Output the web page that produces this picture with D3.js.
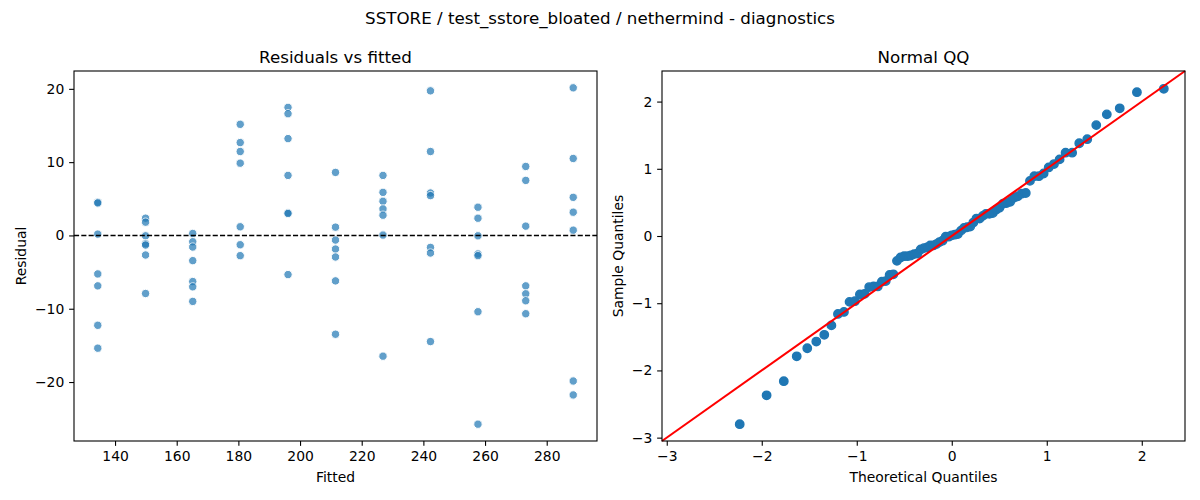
<!DOCTYPE html>
<html>
<head>
<meta charset="utf-8">
<script src="https://cdn.jsdelivr.net/npm/d3@7"></script>
<style>
  body { margin: 0; background: #fff; }
  text { font-family: "DejaVu Sans", sans-serif; fill: #000; }
  .tick text { font-size: 13.9px; }
  .tick line { stroke: #000; stroke-width: 1.1; }
</style>
</head>
<body>
<div id="chart"></div>
<script>
// Fitted value of each group (x position of each column)
const fitted = [134.4, 149.9, 165.2, 180.6, 196.1, 211.5, 226.9, 242.3, 257.7, 273.2, 288.6];

// Residuals, same order as fitted
const residualGroups = [
  [4.52, 4.43, 0.18, -5.25, -6.88, -12.26, -15.38],
  [2.35, 1.81, -0.05, -1.13, -1.31, -2.67, -7.92],
  [0.27, -0.86, -1.58, -3.44, -6.29, -7.01, -9.0],
  [15.16, 12.67, 11.45, 9.86, 1.18, -1.27, -2.76],
  [17.47, 16.61, 13.21, 8.19, 3.08, 2.99, -5.34],
  [8.6, 1.13, -0.63, -1.86, -2.94, -6.2, -13.48],
  [8.19, 5.88, 4.66, 3.62, 2.76, 0.05, -16.47],
  [19.73, 11.45, 5.79, 5.43, -1.63, -2.4, -14.48],
  [3.85, 2.35, -0.05, -2.53, -2.76, -10.41, -25.75],
  [9.41, 7.51, 1.27, -6.88, -7.96, -8.91, -10.68],
  [20.14, 10.5, 5.2, 3.17, 0.72, -19.86, -21.76]
];

// QQ plot points
const theoretical = [
  -2.232, -1.949, -1.768, -1.632, -1.521, -1.426, -1.342, -1.267, -1.198, -1.135,
  -1.076, -1.020, -0.967, -0.917, -0.869, -0.823, -0.779, -0.736, -0.695, -0.654,
  -0.615, -0.577, -0.539, -0.502, -0.466, -0.431, -0.396, -0.361, -0.327, -0.293,
  -0.260, -0.227, -0.194, -0.161, -0.129, -0.097, -0.064, -0.032, 0, 0.032,
  0.064, 0.097, 0.129, 0.161, 0.194, 0.227, 0.260, 0.293, 0.327, 0.361,
  0.396, 0.431, 0.466, 0.502, 0.539, 0.577, 0.615, 0.654, 0.695, 0.736,
  0.779, 0.823, 0.869, 0.917, 0.967, 1.020, 1.076, 1.135, 1.198, 1.267,
  1.342, 1.426, 1.521, 1.632, 1.768, 1.949, 2.232
];
const sample = [
  -2.80, -2.37, -2.16, -1.79, -1.67, -1.57, -1.47, -1.33, -1.16, -1.13,
  -0.98, -0.97, -0.87, -0.86, -0.76, -0.75, -0.75, -0.68, -0.67, -0.58,
  -0.57, -0.37, -0.32, -0.30, -0.30, -0.29, -0.27, -0.26, -0.20, -0.18,
  -0.17, -0.14, -0.14, -0.12, -0.09, -0.07, -0.01, -0.01, 0.01, 0.02,
  0.03, 0.08, 0.12, 0.13, 0.14, 0.20, 0.26, 0.26, 0.30, 0.33,
  0.33, 0.34, 0.39, 0.42, 0.48, 0.49, 0.51, 0.57, 0.59, 0.63,
  0.64, 0.82, 0.89, 0.89, 0.93, 1.02, 1.07, 1.14, 1.24, 1.24,
  1.38, 1.44, 1.65, 1.81, 1.90, 2.14, 2.19
];

const fittedTicks = [140, 160, 180, 200, 220, 240, 260, 280];
const residualTicks = [-20, -10, 0, 10, 20];
const qqTicks = [-3, -2, -1, 0, 1, 2];

const width = 1200, height = 500;
const plotTop = 71, plotBottom = 441;
const panel1 = { x0: 74, x1: 597 };
const panel2 = { x0: 662, x1: 1185 };
const tickLen = 4.86, tickPad = 4.86;
const intFmt = d3.format("d");

// flatten residuals into points
const points = [];
fitted.forEach((f, i) => residualGroups[i].forEach(r => points.push({ f, r })));

// padded extent like matplotlib autoscale
const pad = ext => { const m = (ext[1] - ext[0]) * 0.05; return [ext[0] - m, ext[1] + m]; };

const svg = d3.select("#chart").append("svg")
  .attr("width", width)
  .attr("height", height);

svg.append("text")
  .attr("x", width / 2)
  .attr("y", 24)
  .attr("text-anchor", "middle")
  .attr("font-size", "16.7px")
  .text("SSTORE / test_sstore_bloated / nethermind - diagnostics");

// ---------- Residuals vs fitted ----------
const x1 = d3.scaleLinear()
  .domain(pad(d3.extent(fitted)))
  .range([panel1.x0, panel1.x1]);
const y1 = d3.scaleLinear()
  .domain(pad(d3.extent(points, d => d.r)))
  .range([plotBottom, plotTop]);

const p1 = svg.append("g");

p1.selectAll("circle")
  .data(points)
  .join("circle")
  .attr("cx", d => x1(d.f))
  .attr("cy", d => y1(d.r))
  .attr("r", 4.2)
  .attr("fill", "#1f77b4")
  .attr("stroke", "#fff")
  .attr("stroke-width", 1)
  .attr("opacity", 0.7);

p1.append("line")
  .attr("x1", panel1.x0)
  .attr("x2", panel1.x1)
  .attr("y1", y1(0))
  .attr("y2", y1(0))
  .attr("stroke", "#000")
  .attr("stroke-width", 1.39)
  .attr("stroke-dasharray", "5.1,2.2");

p1.append("g")
  .attr("transform", `translate(0,${plotBottom})`)
  .call(d3.axisBottom(x1).tickValues(fittedTicks).tickFormat(intFmt).tickSizeOuter(0).tickSize(tickLen).tickPadding(tickPad))
  .call(g => g.select(".domain").remove());

p1.append("g")
  .attr("transform", `translate(${panel1.x0},0)`)
  .call(d3.axisLeft(y1).tickValues(residualTicks).tickFormat(intFmt).tickSizeOuter(0).tickSize(tickLen).tickPadding(tickPad))
  .call(g => g.select(".domain").remove());

p1.append("rect")
  .attr("x", panel1.x0).attr("y", plotTop)
  .attr("width", panel1.x1 - panel1.x0).attr("height", plotBottom - plotTop)
  .attr("fill", "none").attr("stroke", "#000").attr("stroke-width", 1.1);

p1.append("text")
  .attr("x", (panel1.x0 + panel1.x1) / 2).attr("y", 63)
  .attr("text-anchor", "middle").attr("font-size", "16.7px")
  .text("Residuals vs fitted");

p1.append("text")
  .attr("x", (panel1.x0 + panel1.x1) / 2).attr("y", 482)
  .attr("text-anchor", "middle").attr("font-size", "13.9px")
  .text("Fitted");

p1.append("text")
  .attr("transform", `translate(26,${(plotTop + plotBottom) / 2}) rotate(-90)`)
  .attr("text-anchor", "middle").attr("font-size", "13.9px")
  .text("Residual");

// ---------- Normal QQ ----------
const qqDomain = [-3.05, 2.455];
const x2 = d3.scaleLinear().domain(qqDomain).range([panel2.x0, panel2.x1]);
const y2 = d3.scaleLinear().domain(qqDomain).range([plotBottom, plotTop]);

const p2 = svg.append("g");

p2.selectAll("circle")
  .data(theoretical)
  .join("circle")
  .attr("cx", d => x2(d))
  .attr("cy", (d, i) => y2(sample[i]))
  .attr("r", 4.2)
  .attr("fill", "#1f77b4")
  .attr("stroke", "#1f77b4")
  .attr("stroke-width", 1.4);

p2.append("line")
  .attr("x1", x2(qqDomain[0])).attr("y1", y2(qqDomain[0]))
  .attr("x2", x2(qqDomain[1])).attr("y2", y2(qqDomain[1]))
  .attr("stroke", "red")
  .attr("stroke-width", 2.08);

p2.append("g")
  .attr("transform", `translate(0,${plotBottom})`)
  .call(d3.axisBottom(x2).tickValues(qqTicks).tickFormat(intFmt).tickSizeOuter(0).tickSize(tickLen).tickPadding(tickPad))
  .call(g => g.select(".domain").remove());

p2.append("g")
  .attr("transform", `translate(${panel2.x0},0)`)
  .call(d3.axisLeft(y2).tickValues(qqTicks).tickFormat(intFmt).tickSizeOuter(0).tickSize(tickLen).tickPadding(tickPad))
  .call(g => g.select(".domain").remove());

p2.append("rect")
  .attr("x", panel2.x0).attr("y", plotTop)
  .attr("width", panel2.x1 - panel2.x0).attr("height", plotBottom - plotTop)
  .attr("fill", "none").attr("stroke", "#000").attr("stroke-width", 1.1);

p2.append("text")
  .attr("x", (panel2.x0 + panel2.x1) / 2).attr("y", 63)
  .attr("text-anchor", "middle").attr("font-size", "16.7px")
  .text("Normal QQ");

p2.append("text")
  .attr("x", (panel2.x0 + panel2.x1) / 2).attr("y", 482)
  .attr("text-anchor", "middle").attr("font-size", "13.9px")
  .text("Theoretical Quantiles");

p2.append("text")
  .attr("transform", `translate(623,${(plotTop + plotBottom) / 2}) rotate(-90)`)
  .attr("text-anchor", "middle").attr("font-size", "13.9px")
  .text("Sample Quantiles");
</script>
</body>
</html>
